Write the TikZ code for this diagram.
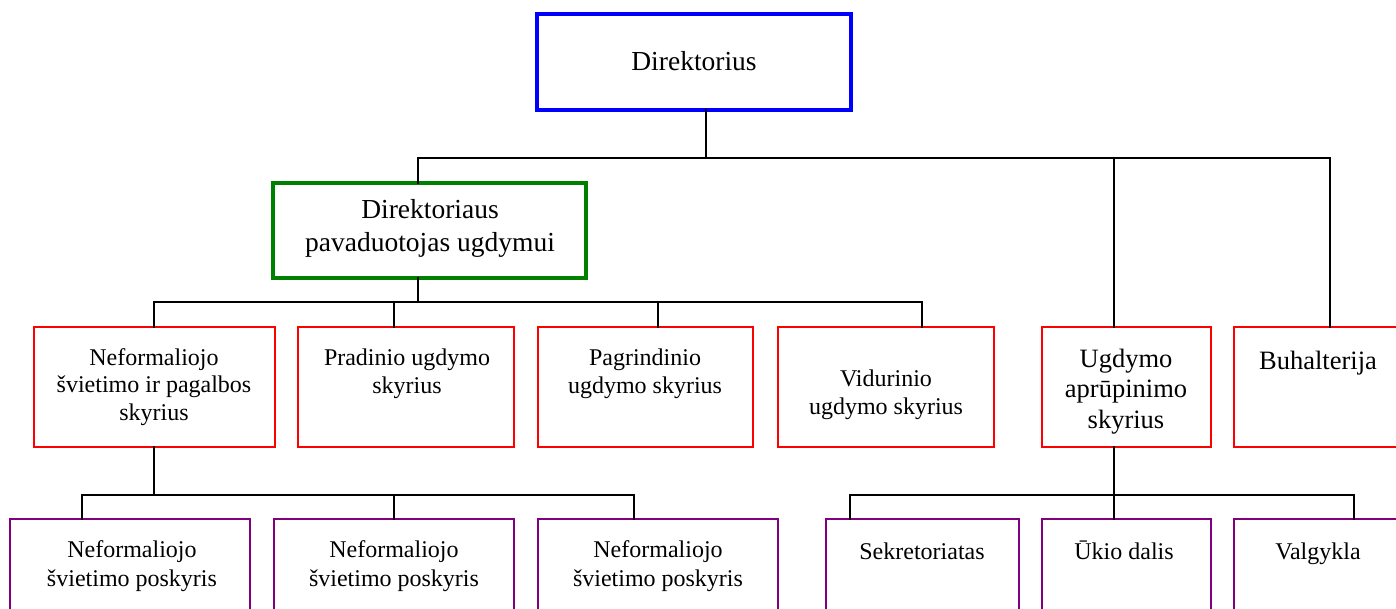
\documentclass[tikz,border=0pt]{standalone}
\usepackage{fontspec}
\setmainfont{Liberation Serif}
\definecolor{cblue}{RGB}{0,0,255}
\definecolor{cgreen}{RGB}{0,128,0}
\definecolor{cred}{RGB}{255,0,0}
\definecolor{cpurple}{RGB}{128,0,128}
\tikzset{
  box/.style={draw, rectangle, inner sep=0pt, outer sep=0pt},
  bluebox/.style={box, draw=cblue, line width=4pt},
  greenbox/.style={box, draw=cgreen, line width=3.5pt},
  redbox/.style={box, draw=cred, line width=2pt, minimum height=120pt},
  purplebox/.style={box, draw=cpurple, line width=2pt, minimum height=131pt},
  conn/.style={draw=black, line width=2.5pt, line cap=rect},
  bigtxt/.style={anchor=base, align=center, inner sep=0pt, font=\fontsize{27.5}{33}\selectfont},
  midtxt/.style={anchor=base, align=center, inner sep=0pt, font=\fontsize{26.5}{30.5}\selectfont},
  redtxt/.style={anchor=base, align=center, inner sep=0pt, font=\fontsize{24}{27.5}\selectfont},
  purtxt/.style={anchor=base, align=center, inner sep=0pt, font=\fontsize{24}{29}\selectfont},
}
\begin{document}
\begin{tikzpicture}[x=1pt,y=-1pt]
\useasboundingbox (0,0) rectangle (1396,609);
\clip (0,0) rectangle (1396,609);

% boxes
\node[bluebox, minimum width=314pt, minimum height=96pt] (dir) at (694,62) {};
\node[greenbox, minimum width=313pt, minimum height=95pt] (dep) at (429.5,230.5) {};
\node[redbox, minimum width=241pt] (r1) at (154,387) {};
\node[redbox, minimum width=216pt] (r2) at (406,387) {};
\node[redbox, minimum width=215pt] (r3) at (645.5,387) {};
\node[redbox, minimum width=216pt] (r4) at (886,387) {};
\node[redbox, minimum width=169pt] (r5) at (1126.5,387) {};
\node[redbox, minimum width=192pt] (buh) at (1330,387) {};
\node[purplebox, minimum width=240pt] (p1) at (130,584.5) {};
\node[purplebox, minimum width=240pt] (p2) at (394,584.5) {};
\node[purplebox, minimum width=240pt] (p3) at (658,584.5) {};
\node[purplebox, minimum width=193pt] (sek) at (922.5,584.5) {};
\node[purplebox, minimum width=169pt] (uk) at (1126.5,584.5) {};
\node[purplebox, minimum width=240pt] (val) at (1354,584.5) {};

% texts (anchor = baseline of the last line)
\node[bigtxt] (tdir) at (694,71) {Direktorius};
\node[bigtxt] (tdep) at (430,252) {Direktoriaus\\pavaduotojas ugdymui};
\node[redtxt] (tr1) at (154,420) {Neformaliojo\\švietimo ir pagalbos\\skyrius};
\node[redtxt] (tr2) at (407,393) {Pradinio ugdymo\\skyrius};
\node[redtxt] (tr3) at (645,393) {Pagrindinio\\ugdymo skyrius};
\node[redtxt] (tr4) at (886,414) {Vidurinio\\ugdymo skyrius};
\node[midtxt] (tr5) at (1126,428) {Ugdymo\\aprūpinimo\\skyrius};
\node[midtxt] (tbuh) at (1318,369) {Buhalterija};
\node[purtxt] (tp1) at (132,586) {Neformaliojo\\švietimo poskyris};
\node[purtxt] (tp2) at (394,586) {Neformaliojo\\švietimo poskyris};
\node[purtxt] (tp3) at (658,586) {Neformaliojo\\švietimo poskyris};
\node[purtxt] (tsek) at (922,559) {Sekretoriatas};
\node[purtxt] (tuk) at (1124,559) {Ūkio dalis};
\node[purtxt] (tval) at (1318,559) {Valgykla};

% junctions
\coordinate (t0) at (706,158);
\coordinate (a1) at (418,158);
\coordinate (a2) at (1330,158);
\coordinate (a3) at (1114,158);
\coordinate (c0) at (418,302);
\coordinate (c1) at (154,302);
\coordinate (c2) at (394,302);
\coordinate (c3) at (658,302);
\coordinate (c4) at (922,302);
\coordinate (d0) at (154,495);
\coordinate (d1) at (82,495);
\coordinate (d2) at (394,495);
\coordinate (d3) at (634,495);
\coordinate (e0) at (1114,495);
\coordinate (e1) at (850,495);
\coordinate (e3) at (1354,495);

% connectors
\draw[conn] (dir.south -| t0) -- (t0);
\draw[conn] (a1) -- (a2);
\draw[conn] (a2) -- (buh.north);
\draw[conn] (a1) -- (dep.north -| a1);
\draw[conn] (a3) -- (r5.north -| a3);
\draw[conn] (dep.south -| c0) -- (c0);
\draw[conn] (c1) -- (c4);
\draw[conn] (c1) -- (r1.north);
\draw[conn] (c2) -- (r2.north -| c2);
\draw[conn] (c3) -- (r3.north -| c3);
\draw[conn] (c4) -- (r4.north -| c4);
\draw[conn] (r1.south) -- (d0);
\draw[conn] (d1) -- (d3);
\draw[conn] (d1) -- (p1.north -| d1);
\draw[conn] (d2) -- (p2.north);
\draw[conn] (d3) -- (p3.north -| d3);
\draw[conn] (r5.south -| e0) -- (e0);
\draw[conn] (e1) -- (e3);
\draw[conn] (e1) -- (sek.north -| e1);
\draw[conn] (e0) -- (uk.north -| e0);
\draw[conn] (e3) -- (val.north);
\end{tikzpicture}
\end{document}
